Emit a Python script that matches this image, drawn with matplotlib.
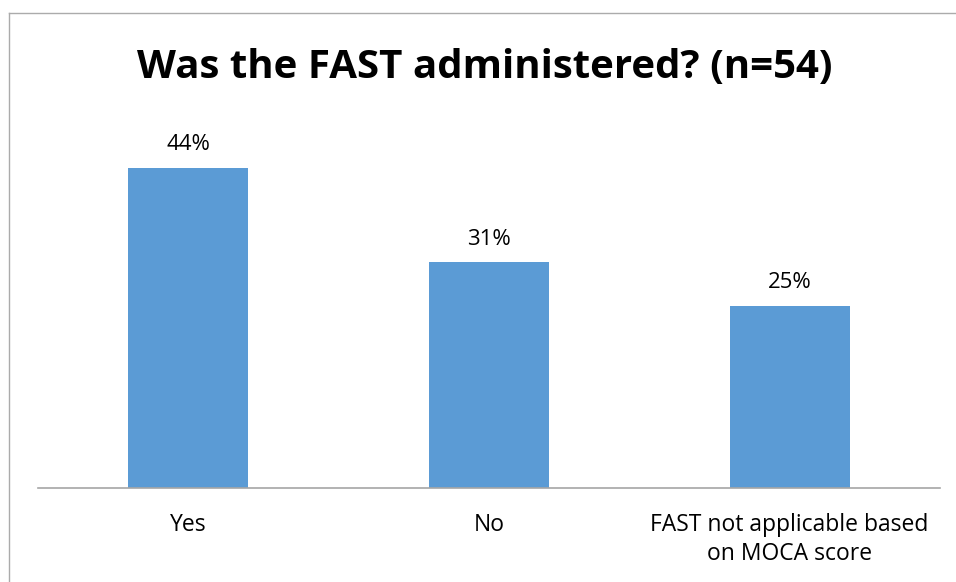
import matplotlib
matplotlib.use("Agg")
import matplotlib.pyplot as plt
from matplotlib.lines import Line2D

# ── 데이터 ──
CATEGORIES = ["Yes", "No", "FAST not applicable based\non MOCA score"]
VALUES = [0.44, 0.31, 0.25]
LABELS = ["44%", "31%", "25%"]

BAR = "#5B9BD5"
AXIS = "#A6A6A6"
BORDER = "#ABABAB"
TEXT = "#000000"

plt.rcParams["font.family"] = ["Open Sans", "DejaVu Sans"]

fig = plt.figure(figsize=(9.56, 5.82), dpi=100)
ax = fig.add_axes([38 / 956, 1 - 488 / 582, (940 - 38) / 956, (488 - 124) / 582])

x = range(len(CATEGORIES))
bars = ax.bar(x, VALUES, width=0.4, color=BAR, zorder=2)

for bar, lab in zip(bars, LABELS):
    ax.annotate(lab, (bar.get_x() + bar.get_width() / 2, bar.get_height()),
                textcoords="offset points", xytext=(0, 9), ha="center",
                va="bottom", fontsize=16, color=TEXT)

ax.set_xlim(-0.5, 2.5)
ax.set_ylim(0, 0.5)
ax.set_xticks(list(x))
ax.set_xticklabels(CATEGORIES, fontsize=16.5, color=TEXT, linespacing=1.3)
ax.tick_params(axis="x", length=0, pad=18)
ax.set_yticks([])
for s in ["top", "right", "left"]:
    ax.spines[s].set_visible(False)
ax.spines["bottom"].set_color(AXIS)
ax.spines["bottom"].set_linewidth(1.2)

fig.text(485 / 956, 1 - 67 / 582, "Was the FAST administered? (n=54)",
         ha="center", va="center", fontsize=29, fontweight="bold", color=TEXT)

# 차트 테두리 (좌측·상단만 보임)
fig.add_artist(Line2D([8.5 / 956, 8.5 / 956], [0, 1 - 12.5 / 582],
                      transform=fig.transFigure, color=BORDER, lw=1))
fig.add_artist(Line2D([8.5 / 956, 1], [1 - 12.5 / 582, 1 - 12.5 / 582],
                      transform=fig.transFigure, color=BORDER, lw=1))

fig.savefig("out.png", dpi=100, facecolor="white")
